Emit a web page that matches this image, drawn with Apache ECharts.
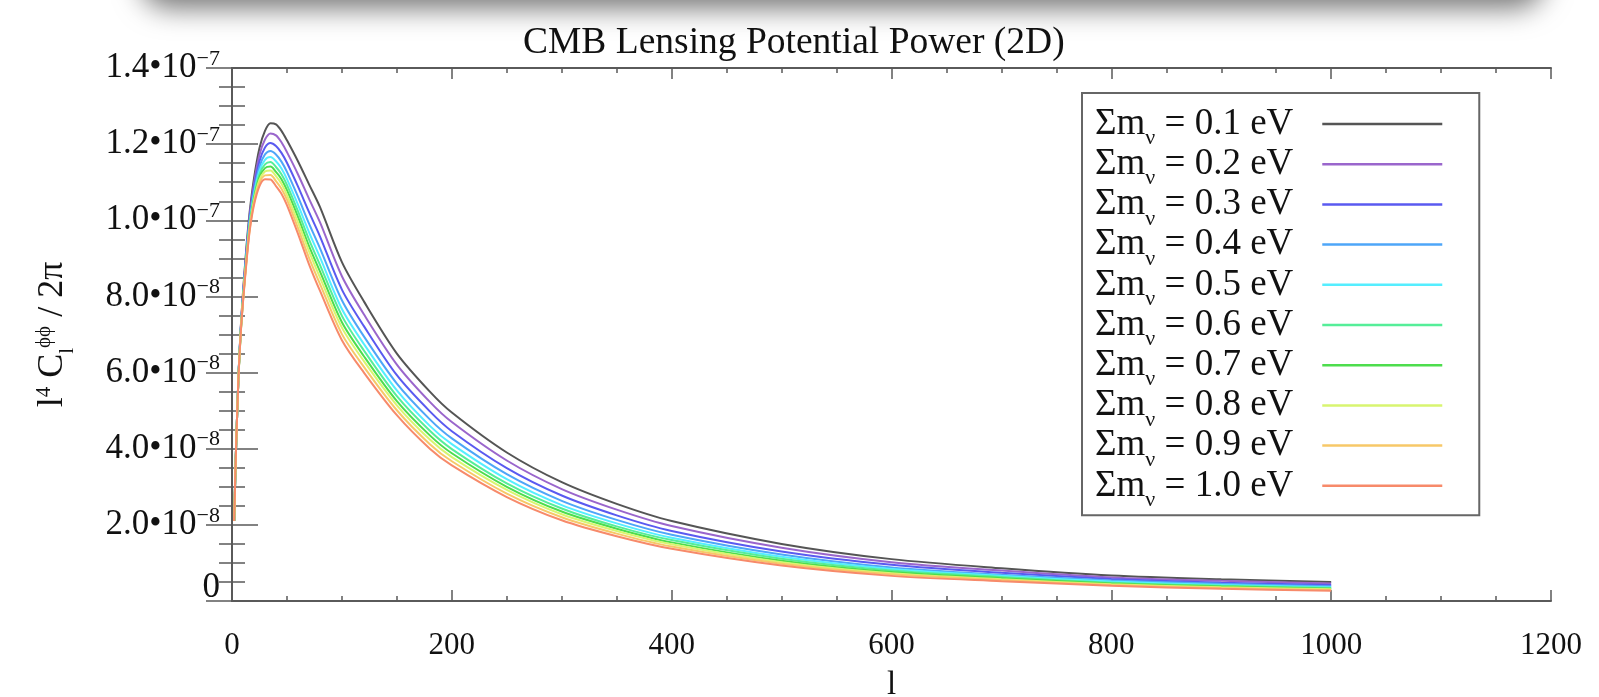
<!DOCTYPE html>
<html>
<head>
<meta charset="utf-8">
<script src="https://cdn.jsdelivr.net/npm/echarts@6/dist/echarts.min.js"></script>
<style>
  html, body { margin: 0; padding: 0; background: #fff; }
  #chart { width: 1599px; height: 697px; }
</style>
</head>
<body>
<div id="chart"></div>
<script>
// Multipole values shared by all curves
const ell = [2, 3, 4, 6, 8, 10, 13, 16, 20, 25, 30, 35, 40, 45, 50, 60, 70, 80, 100, 120, 150, 180, 200, 250, 300, 350, 400, 500, 600, 700, 800, 900, 1000];

// l^4 C_l^phiphi / 2pi in units of 1e-8, one array per total neutrino mass
const m01 = [2.1, 3.3, 4.3, 6.0, 7.2, 8.1, 9.25, 10.2, 11.1, 11.9, 12.35, 12.55, 12.52, 12.35, 12.1, 11.55, 10.95, 10.35, 8.9, 7.87, 6.5, 5.5, 4.95, 3.9, 3.12, 2.55, 2.1, 1.5, 1.1, 0.86, 0.67, 0.57, 0.5];
const m02 = [2.1, 3.3, 4.3, 5.99, 7.17, 8.06, 9.18, 10.11, 10.97, 11.72, 12.12, 12.28, 12.23, 12.05, 11.79, 11.21, 10.57, 9.95, 8.53, 7.53, 6.21, 5.23, 4.7, 3.69, 2.94, 2.4, 1.97, 1.4, 1.02, 0.8, 0.62, 0.53, 0.46];
const m03 = [2.1, 3.3, 4.3, 5.98, 7.15, 8.01, 9.11, 10.03, 10.86, 11.55, 11.91, 12.03, 11.95, 11.77, 11.51, 10.89, 10.22, 9.58, 8.18, 7.22, 5.93, 4.98, 4.46, 3.49, 2.77, 2.25, 1.84, 1.3, 0.95, 0.74, 0.58, 0.48, 0.42];
const m04 = [2.1, 3.3, 4.3, 5.98, 7.13, 7.98, 9.05, 9.96, 10.76, 11.41, 11.73, 11.82, 11.73, 11.54, 11.27, 10.62, 9.92, 9.27, 7.9, 6.95, 5.71, 4.77, 4.27, 3.33, 2.63, 2.13, 1.74, 1.22, 0.88, 0.69, 0.54, 0.45, 0.39];
const m05 = [2.1, 3.3, 4.3, 5.97, 7.11, 7.95, 9.01, 9.9, 10.68, 11.3, 11.59, 11.66, 11.55, 11.36, 11.08, 10.41, 9.69, 9.03, 7.67, 6.75, 5.53, 4.6, 4.12, 3.2, 2.52, 2.04, 1.66, 1.16, 0.84, 0.66, 0.51, 0.42, 0.36];
const m06 = [2.1, 3.3, 4.3, 5.97, 7.1, 7.93, 8.97, 9.86, 10.62, 11.21, 11.47, 11.53, 11.4, 11.21, 10.93, 10.24, 9.5, 8.83, 7.49, 6.58, 5.38, 4.47, 3.99, 3.09, 2.43, 1.96, 1.6, 1.11, 0.8, 0.63, 0.48, 0.4, 0.34];
const m07 = [2.1, 3.3, 4.3, 5.96, 7.08, 7.91, 8.94, 9.82, 10.56, 11.13, 11.37, 11.41, 11.27, 11.08, 10.79, 10.09, 9.33, 8.66, 7.32, 6.43, 5.25, 4.35, 3.88, 3.0, 2.35, 1.9, 1.54, 1.06, 0.76, 0.6, 0.46, 0.38, 0.32];
const m08 = [2.1, 3.3, 4.3, 5.96, 7.07, 7.89, 8.91, 9.78, 10.51, 11.06, 11.28, 11.31, 11.16, 10.96, 10.67, 9.95, 9.19, 8.5, 7.18, 6.3, 5.14, 4.24, 3.78, 2.92, 2.28, 1.84, 1.49, 1.02, 0.73, 0.57, 0.44, 0.36, 0.31];
const m09 = [2.1, 3.3, 4.3, 5.95, 7.06, 7.87, 8.88, 9.74, 10.46, 10.98, 11.18, 11.19, 11.03, 10.83, 10.54, 9.8, 9.02, 8.33, 7.01, 6.15, 5.01, 4.12, 3.67, 2.82, 2.2, 1.77, 1.43, 0.98, 0.7, 0.55, 0.42, 0.34, 0.29];
const m10 = [2.1, 3.3, 4.3, 5.95, 7.05, 7.85, 8.85, 9.7, 10.4, 10.9, 11.08, 11.07, 10.9, 10.7, 10.4, 9.65, 8.85, 8.15, 6.85, 6.0, 4.88, 4.0, 3.56, 2.73, 2.12, 1.7, 1.37, 0.93, 0.66, 0.52, 0.4, 0.32, 0.27];

const massLabels = ['0.1', '0.2', '0.3', '0.4', '0.5', '0.6', '0.7', '0.8', '0.9', '1.0'];
const curves = [m01, m02, m03, m04, m05, m06, m07, m08, m09, m10];
const colors = ['#555555', '#9a66cc', '#5a5af0', '#4ea6f8', '#55eeff', '#55ee99', '#4ddd4d', '#d8f570', '#f7c868', '#f78a6a'];

const xTicks = [0, 200, 400, 600, 800, 1000, 1200];
const yTickLabels = ['{z|0}', '2.0•10{s|−8}', '4.0•10{s|−8}', '6.0•10{s|−8}', '8.0•10{s|−8}',
                     '1.0•10{s|−7}', '1.2•10{s|−7}', '1.4•10{s|−7}'];

const FONT = '"Liberation Serif", "DejaVu Serif", serif';
const INK = '#111';
const FRAME = '#5a5a5a';

const series = curves.map((vals, i) => ({
  name: massLabels[i],
  type: 'line',
  xAxisIndex: 0,
  yAxisIndex: 0,
  data: ell.map((l, j) => [l, vals[j]]),
  showSymbol: false,
  smooth: 0.3,
  lineStyle: { width: 2, color: colors[i] },
  itemStyle: { color: colors[i] },
  emphasis: { disabled: true },
  z: 2 + i
}));

const baseY = {
  type: 'value', min: 0, max: 14, interval: 2,
  axisLine: { show: true, lineStyle: { color: FRAME, width: 2 } },
  axisTick: { show: true, inside: true, length: 26, lineStyle: { color: FRAME, width: 1.5 } },
  minorTick: { show: true, splitNumber: 4, length: 13, lineStyle: { color: FRAME, width: 1.5 } },
  splitLine: { show: false }
};
const baseX = {
  type: 'value', min: 0, max: 1200, interval: 200,
  axisLine: { show: true, onZero: false, lineStyle: { color: FRAME, width: 2 } },
  axisTick: { show: true, inside: true, length: 11, lineStyle: { color: FRAME, width: 1.5 } },
  minorTick: { show: true, splitNumber: 4, length: 5, lineStyle: { color: FRAME, width: 1.5 } },
  splitLine: { show: false }
};

const option = {
  backgroundColor: '#ffffff',
  animation: false,
  title: {
    text: 'CMB Lensing Potential Power (2D)',
    left: 518,
    top: 19,
    textStyle: { fontFamily: FONT, fontSize: 37.5, fontWeight: 'normal', color: INK }
  },
  grid: { left: 232, right: 48, top: 68, bottom: 96, containLabel: false, outerBoundsMode: 'none' },
  legend: {
    orient: 'vertical',
    left: 1082,
    top: 93,
    align: 'right',
    icon: 'rect',
    itemWidth: 120,
    itemHeight: 2.5,
    itemGap: -3.8,
    padding: [12.5, 37, 4, 13],
    borderColor: '#666',
    borderWidth: 2,
    backgroundColor: '#fff',
    data: massLabels,
    formatter: name => 'Σm{s|ν} = ' + name + ' eV',
    textStyle: {
      fontFamily: FONT, fontSize: 37, color: INK, lineHeight: 37, padding: [0, 24, 0, 0],
      rich: {
        s: { fontFamily: FONT, fontSize: 22, color: INK, verticalAlign: 'bottom', lineHeight: 8, padding: [0, 0, -7, 0] }
      }
    },
    selectedMode: false
  },
  xAxis: [
    Object.assign({}, baseX, {
      position: 'bottom',
      name: 'l',
      nameLocation: 'middle',
      nameGap: 68,
      nameTextStyle: { fontFamily: FONT, fontSize: 33, color: INK },
      axisLabel: {
        margin: 29, fontFamily: FONT, fontSize: 31, color: INK,
        formatter: v => (xTicks.indexOf(v) >= 0 ? String(v) : '')
      }
    }),
    Object.assign({}, baseX, { position: 'top', axisLabel: { show: false } })
  ],
  yAxis: [
    Object.assign({}, baseY, {
      position: 'left',
      name: 'l{s|4} C{b|l}{s|ϕϕ} / 2π',
      nameLocation: 'middle',
      nameGap: 160,
      nameRotate: 90,
      nameTextStyle: {
        fontFamily: FONT, fontSize: 36, color: INK,
        rich: {
          s: { fontFamily: FONT, fontSize: 21, color: INK, verticalAlign: 'top', lineHeight: 38 },
          b: { fontFamily: FONT, fontSize: 21, color: INK, verticalAlign: 'bottom', lineHeight: 38, padding: [0, 0, -6, 0] }
        }
      },
      axisLabel: {
        margin: 12, fontFamily: FONT, fontSize: 35, color: INK,
        formatter: v => yTickLabels[Math.round(v / 2)],
        rich: {
          s: { fontFamily: FONT, fontSize: 22, color: INK, verticalAlign: 'top', lineHeight: 40 },
          z: { fontFamily: FONT, fontSize: 35, color: INK, padding: [0, 0, 26, 0] }
        }
      }
    }),
    Object.assign({}, baseY, { position: 'right', axisLabel: { show: false } })
  ],
  graphic: [
    {
      // soft drop shadow along the top edge of the page
      type: 'rect',
      silent: true,
      z: 100,
      shape: { x: 140, y: -60, width: 1405, height: 60, r: 30 },
      style: { fill: '#fff', shadowBlur: 28, shadowOffsetY: 8, shadowColor: 'rgba(0,0,0,0.55)' }
    }
  ],
  series: series
};

const chart = echarts.init(document.getElementById('chart'), null, { renderer: 'canvas' });
chart.setOption(option);
</script>
</body>
</html>
